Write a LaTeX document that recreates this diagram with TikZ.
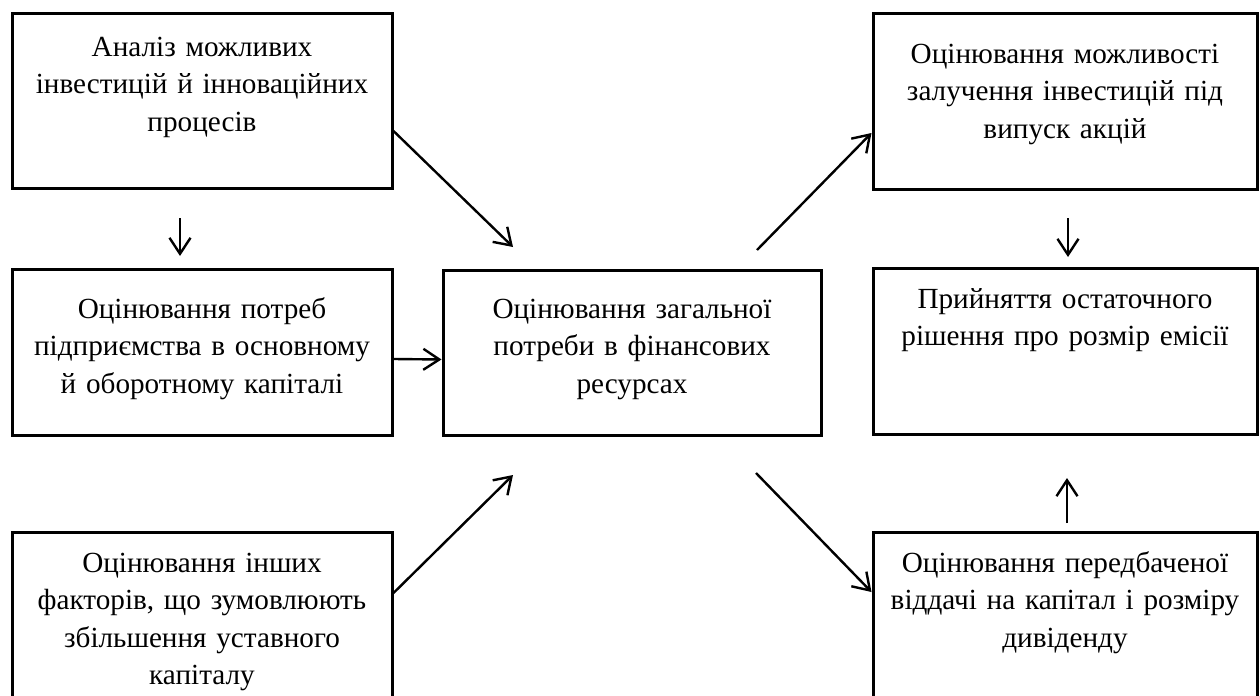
\documentclass[tikz,border=0pt]{standalone}
\usepackage{fontspec}
\setmainfont{Liberation Serif}
\usetikzlibrary{arrows.meta}
\begin{document}
\begin{tikzpicture}[x=0.5pt,y=-0.5pt,
  box/.style={draw, line width=1.5pt, inner sep=0pt},
  lbl/.style={text width=200pt, align=center, inner sep=0pt, anchor=base,
    font=\fontsize{14.6pt}{18.75pt}\selectfont},
  arr/.style={line width=1.2pt, -{Straight Barb[length=8pt,width=10.5pt,line width=1.2pt]}}]
\useasboundingbox (0,0) rectangle (1260,696);
\clip (0,0) rectangle (1260,696);
% boxes
\node[box, minimum width=190pt, minimum height=87.5pt] (A) at (202,100.5) {};
\node[box, minimum width=190pt, minimum height=83pt]   (B) at (202,352) {};
\node[box, minimum width=190pt, minimum height=114pt]  (C) at (202,646) {};
\node[box, minimum width=189pt, minimum height=82.5pt] (D) at (632,352.5) {};
\node[box, minimum width=192pt, minimum height=88pt]   (E) at (1065,101) {};
\node[box, minimum width=192pt, minimum height=83pt]   (F) at (1065,351) {};
\node[box, minimum width=192pt, minimum height=114pt]  (G) at (1065,646) {};
% texts
\node[lbl] (tA) at (202,56) {Аналіз можливих\\інвестицій й інноваційних\\процесів};
\node[lbl] (tB) at (202,318) {Оцінювання потреб\\підприємства в основному\\й оборотному капіталі};
\node[lbl] (tC) at (202,572) {Оцінювання інших\\факторів, що зумовлюють\\збільшення уставного\\капіталу};
\node[lbl] (tD) at (632,318) {Оцінювання загальної\\потреби в фінансових\\ресурсах};
\node[lbl] (tE) at (1065,63) {Оцінювання можливості\\залучення інвестицій під\\випуск акцій};
\node[lbl] (tF) at (1065,308) {Прийняття остаточного\\рішення про розмір емісії};
\node[lbl] (tG) at (1065,572) {Оцінювання передбаченої\\віддачі на капітал і розміру\\дивіденду};
% free arrow ends
\coordinate (ab1) at (180,218);
\coordinate (ab2) at (180,256);
\coordinate (ad2) at (513,247);
\coordinate (cd2) at (513,475);
\coordinate (de1) at (757,250);
\coordinate (dg1) at (756,473);
\coordinate (ef1) at (1068,218);
\coordinate (ef2) at (1068,257);
\coordinate (gf1) at (1067,523);
\coordinate (gf2) at (1067,478);
% arrows
\draw[arr] (ab1) -- (ab2);
\draw[arr] ([yshift=-15.25pt]A.east) -- (ad2);
\draw[arr] ([yshift=-3.5pt]B.east) -- ([yshift=-3.5pt]D.west);
\draw[arr] ([yshift=26.5pt]C.east) -- (cd2);
\draw[arr] (de1) -- ([yshift=-16pt]E.west);
\draw[arr] (dg1) -- ([yshift=27pt]G.west);
\draw[arr] (ef1) -- (ef2);
\draw[arr] (gf1) -- (gf2);
\end{tikzpicture}
\end{document}
